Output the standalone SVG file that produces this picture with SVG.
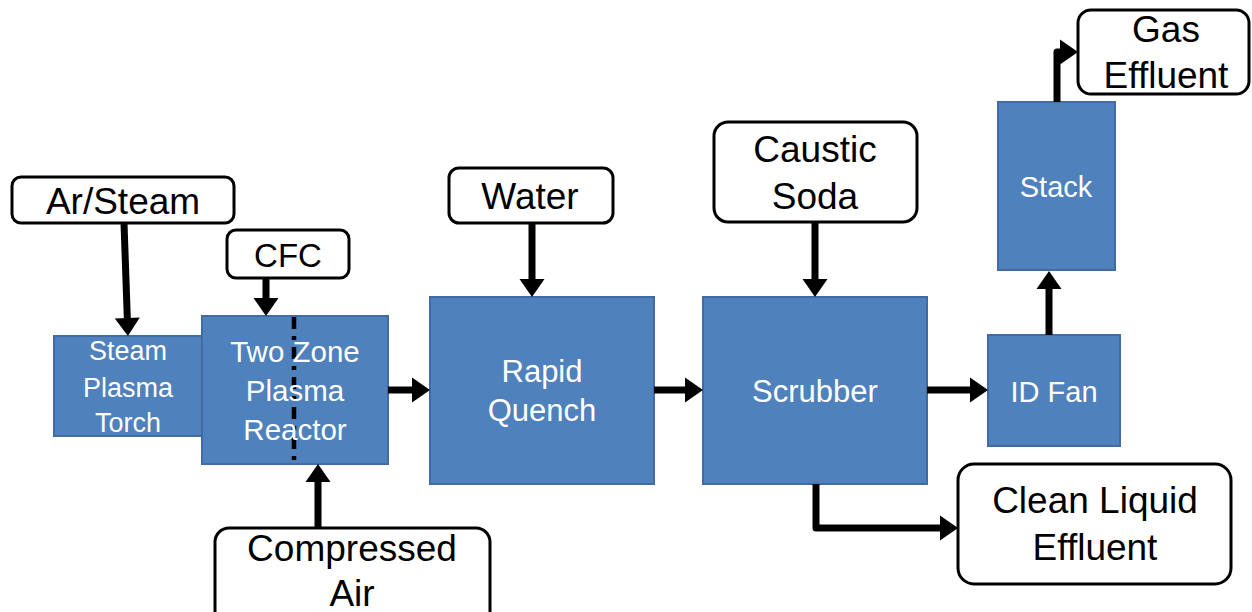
<svg xmlns="http://www.w3.org/2000/svg" width="1252" height="612" viewBox="0 0 1252 612">
<style>
.blue{fill:#4F81BD;stroke:#3F6DA3;stroke-width:2}
.wbox{fill:#FFFFFF;stroke:#000000;stroke-width:3}
.bt{fill:#FFFFFF;font-family:"Liberation Sans",Arial,sans-serif;text-anchor:middle}
.wt{fill:#000000;font-family:"Liberation Sans",Arial,sans-serif;text-anchor:middle;font-size:37px}
.conn{fill:none;stroke:#000000;stroke-width:7;stroke-linejoin:round;marker-end:url(#ah)}
</style>
<defs>
<marker id="ah" markerUnits="userSpaceOnUse" markerWidth="20" markerHeight="26" refX="0" refY="12.5" orient="auto" overflow="visible">
<path d="M0,0 L18,12.5 L0,25 Z" fill="#000000"/>
</marker>
</defs>
<g id="torch">
<rect class="blue" x="54" y="336" width="148" height="100"/>
<text class="bt" font-size="27" x="128" y="360">Steam</text>
<text class="bt" font-size="27" x="128" y="397">Plasma</text>
<text class="bt" font-size="27" x="128" y="432">Torch</text>
</g>
<g id="reactor">
<rect class="blue" x="202" y="316" width="186" height="148"/>
<line x1="294" y1="317" x2="294" y2="464" stroke="#000000" stroke-width="4.5" stroke-dasharray="12 7 4 7"/>
<text class="bt" font-size="29.5" x="295" y="362">Two Zone</text>
<text class="bt" font-size="29.5" x="295" y="401">Plasma</text>
<text class="bt" font-size="29.5" x="295" y="440">Reactor</text>
</g>
<g id="quench">
<rect class="blue" x="430" y="297" width="224" height="187"/>
<text class="bt" font-size="31" x="542" y="382">Rapid</text>
<text class="bt" font-size="31" x="542" y="421">Quench</text>
</g>
<g id="scrubber">
<rect class="blue" x="703" y="297" width="224" height="187"/>
<text class="bt" font-size="31" x="815" y="402">Scrubber</text>
</g>
<g id="idfan">
<rect class="blue" x="988" y="335" width="132" height="111"/>
<text class="bt" font-size="29" x="1054" y="402">ID Fan</text>
</g>
<g id="stack">
<rect class="blue" x="998" y="102" width="117" height="168"/>
<text class="bt" font-size="29" x="1056" y="197">Stack</text>
</g>
<g id="arsteam">
<rect class="wbox" x="12" y="177" width="222" height="46" rx="9"/>
<text class="wt" x="123" y="214">Ar/Steam</text>
</g>
<g id="cfc">
<rect class="wbox" x="227" y="230" width="122" height="48" rx="9"/>
<text class="wt" style="font-size:33px" x="288" y="267">CFC</text>
</g>
<g id="air">
<rect class="wbox" x="215" y="528" width="275" height="110" rx="14"/>
<text class="wt" x="352" y="561">Compressed</text>
<text class="wt" x="352" y="606">Air</text>
</g>
<g id="water">
<rect class="wbox" x="449" y="168" width="164" height="55" rx="10"/>
<text class="wt" x="530" y="209">Water</text>
</g>
<g id="caustic">
<rect class="wbox" x="714" y="122" width="203" height="100" rx="14"/>
<text class="wt" x="815" y="162">Caustic</text>
<text class="wt" x="815" y="209">Soda</text>
</g>
<g id="liquid">
<rect class="wbox" x="958" y="464" width="273" height="120" rx="16"/>
<text class="wt" x="1095" y="513">Clean Liquid</text>
<text class="wt" x="1095" y="560">Effluent</text>
</g>
<g id="gas">
<rect class="wbox" x="1078" y="10" width="171" height="84" rx="13"/>
<text class="wt" x="1166" y="42">Gas</text>
<text class="wt" x="1166" y="88">Effluent</text>
</g>
<g id="connectors">
<path class="conn" d="M124,223 L127.3,318"/>
<path class="conn" d="M266,278 L266,298"/>
<path class="conn" d="M318,528 L318,482"/>
<path class="conn" d="M388,390 L412,390"/>
<path class="conn" d="M532,223 L532,279"/>
<path class="conn" d="M654,390 L685,390"/>
<path class="conn" d="M815,222 L815,279"/>
<path class="conn" d="M927,390 L970,390"/>
<path class="conn" d="M816,484 L816,528 L940,528"/>
<path class="conn" d="M1049,335 L1049,289"/>
<path class="conn" d="M1057,102 L1057,52 L1060,52"/>
</g>
</svg>
